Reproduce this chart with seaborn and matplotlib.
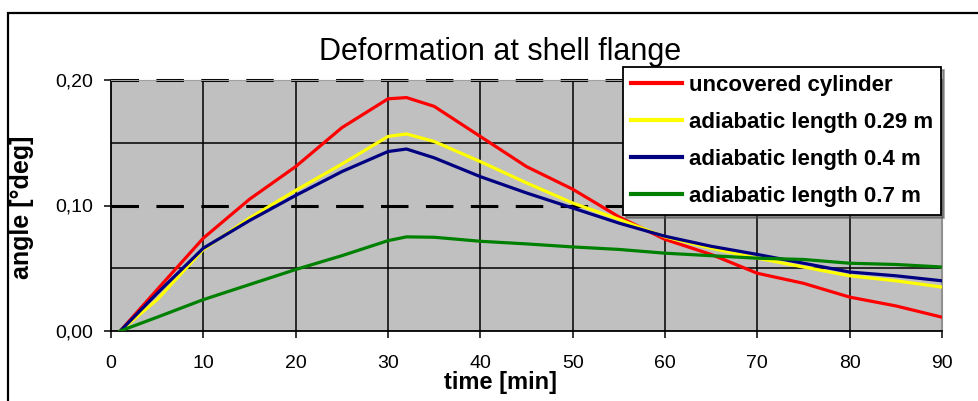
import matplotlib
matplotlib.use("Agg")
import matplotlib.pyplot as plt
from matplotlib.patches import Rectangle
from matplotlib.ticker import FuncFormatter
import numpy as np
import pandas as pd
import seaborn as sns

# values
time_min = [1, 5, 10, 15, 20, 25, 30, 32, 35, 40, 45, 50, 55, 60, 65, 70, 75, 80, 85, 90]
uncovered = [0, .033, .074, .105, .131, .162, .185, .186, .179, .155, .131, .113, .091, .073, .061, .046, .038, .027, .020, .011]
adiab_029 = [0, .025, .065, .090, .112, .133, .155, .157, .151, .135, .118, .102, .089, .075, .066, .058, .051, .044, .040, .035]
adiab_04 = [0, .030, .066, .088, .108, .127, .143, .145, .138, .123, .110, .098, .086, .0755, .0675, .061, .054, .047, .044, .040]
adiab_07 = [0, .011, .025, .037, .049, .060, .072, .075, .0747, .0715, .0694, .067, .065, .062, .060, .058, .057, .054, .053, .051]

series_names = ["uncovered cylinder", "adiabatic length 0.29 m",
                "adiabatic length 0.4 m", "adiabatic length 0.7 m"]
series_vals = [uncovered, adiab_029, adiab_04, adiab_07]
colors = ["#ff0000", "#ffff00", "#000080", "#008000"]

x_ticks = list(range(0, 100, 10))
y_ticks = [0.0, 0.1, 0.2]

df = pd.concat([pd.DataFrame({"time": time_min, "angle": v, "series": n})
                for n, v in zip(series_names, series_vals)])

plt.rcParams["font.family"] = ["Liberation Sans", "DejaVu Sans"]

fig = plt.figure(figsize=(9.79, 4.01), dpi=100)
ax = fig.add_axes([111/979, 1-331/401, 831/979, 251/401])
ax.set_facecolor("#c0c0c0")

# grid like the old excel chart
for xv in x_ticks[1:-1]:
    ax.axvline(xv, color="black", lw=1.1, zorder=1)
for yv in [0.05, 0.15]:
    ax.axhline(yv, color="black", lw=1.1, zorder=1)
for yv in [0.1, 0.2]:
    ax.axhline(yv, color="black", lw=2.2, ls=(0, (9, 5.7)), zorder=1, clip_on=False)

sns.lineplot(data=df, x="time", y="angle", hue="series", hue_order=series_names,
             palette=colors, linewidth=2.3, ax=ax, zorder=3)

ax.set_xlim(0, 90)
ax.set_ylim(0, 0.2)
ax.set_xticks(x_ticks)
ax.set_yticks(y_ticks)
ax.yaxis.set_major_formatter(FuncFormatter(lambda v, p: f"{v:.2f}".replace(".", ",")))
ax.tick_params(axis="both", direction="out", length=5, width=1.1, labelsize=14,
               colors="black")
ax.tick_params(axis="x", pad=12)
ax.tick_params(axis="y", pad=8)
for s in ["left", "bottom"]:
    ax.spines[s].set_color("black")
    ax.spines[s].set_linewidth(1.3)
ax.spines["top"].set_color("#a0a0a0")
ax.spines["right"].set_color("#909090")
ax.spines["right"].set_linewidth(1.5)

ax.set_xlabel("time [min]", fontsize=17, fontweight="bold")
ax.set_ylabel("angle [°deg]", fontsize=18, fontweight="bold")
ax.xaxis.set_label_coords(0.469, -0.158)
ax.yaxis.set_label_coords(-0.093, 0.494)

fig.text(500/979, 1-60/401, "Deformation at shell flange", fontsize=22,
         ha="center", va="baseline")

h, l = ax.get_legend_handles_labels()
leg = ax.legend(h, l, loc="upper left", bbox_to_anchor=(623/979, 1-67/401),
                bbox_transform=fig.transFigure, borderaxespad=0, frameon=True,
                fancybox=False, shadow=True, framealpha=1, edgecolor="black",
                prop={"size": 16, "weight": "bold"}, handlelength=2.3,
                handletextpad=0.3, labelspacing=0.72, borderpad=0.36)
leg.get_frame().set_linewidth(1.3)
for line in leg.get_lines():
    line.set_linewidth(3)
leg.set_zorder(10)

# outer chart border
fig.patches.append(Rectangle((8/979, -0.1), 1.2, 1.0676, transform=fig.transFigure,
                             fill=False, edgecolor="black", lw=1.6))

fig.savefig("out.png", dpi=100)
